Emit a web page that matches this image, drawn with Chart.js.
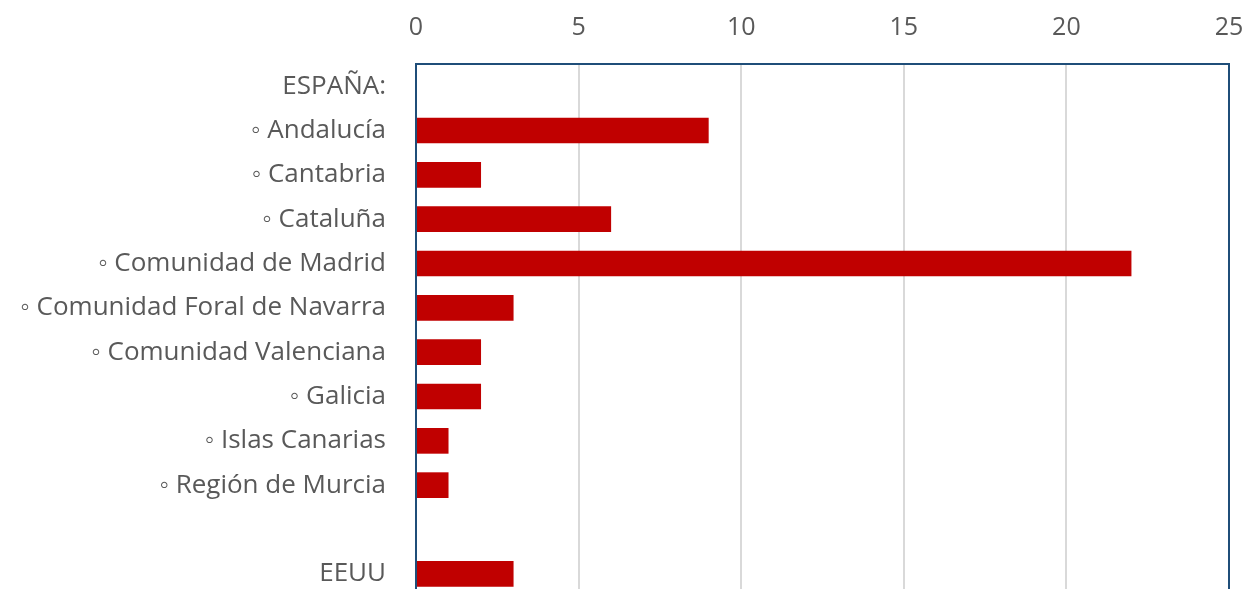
<!DOCTYPE html>
<html>
<head>
<meta charset="utf-8">
<script src="https://cdn.jsdelivr.net/npm/chart.js@4/dist/chart.umd.min.js"></script>
<style>
	html, body { margin: 0; padding: 0; background: #ffffff; overflow: hidden; }
	canvas { display: block; }
</style>
</head>
<body>
<canvas id="chart" width="1247" height="600"></canvas>
<script>
const categories = [
	"ESPAÑA:",
	"◦ Andalucía",
	"◦ Cantabria",
	"◦ Cataluña",
	"◦ Comunidad de Madrid",
	"◦ Comunidad Foral de Navarra",
	"◦ Comunidad Valenciana",
	"◦ Galicia",
	"◦ Islas Canarias",
	"◦ Región de Murcia",
	"",
	"EEUU"
];
const values = [null, 9, 2, 6, 22, 3, 2, 2, 1, 1, null, 3];
const xTicks = [0, 5, 10, 15, 20, 25];

const plotBorder = {
	id: "plotBorder",
	afterDatasetsDraw: function (chart) {
		const area = chart.chartArea;
		const ctx = chart.ctx;
		ctx.save();
		ctx.strokeStyle = "#1f4e79";
		ctx.lineWidth = 2;
		ctx.strokeRect(area.left, area.top, area.right - area.left, area.bottom - area.top);
		ctx.restore();
	}
};

// drop the extra room chart.js keeps for edge labels
function noEdgePadding(scale) {
	scale.paddingLeft = 0;
	scale.paddingRight = 0;
	scale.paddingTop = 0;
	scale.paddingBottom = 0;
}

new Chart(document.getElementById("chart"), {
	type: "bar",
	data: {
		labels: categories,
		datasets: [
			{
				data: values,
				backgroundColor: "#c00000",
				borderWidth: 0,
				categoryPercentage: 1,
				barPercentage: 0.58
			}
		]
	},
	options: {
		indexAxis: "y",
		responsive: false,
		animation: false,
		layout: { padding: { top: 0, right: 18, bottom: 4, left: 0 } },
		plugins: {
			legend: { display: false },
			tooltip: { enabled: false }
		},
		scales: {
			x: {
				position: "top",
				min: 0,
				max: 25,
				afterBuildTicks: function (scale) {
					scale.ticks = xTicks.map(function (v) { return { value: v }; });
				},
				afterFit: function (scale) {
					scale.height = 64;
					noEdgePadding(scale);
				},
				grid: {
					drawTicks: false,
					color: function (c) {
						return c.tick && c.tick.value > 0 && c.tick.value < 25 ? "#d9d9d9" : "rgba(0,0,0,0)";
					},
					lineWidth: 2
				},
				border: { display: false },
				ticks: {
					padding: 21,
					color: "#595959",
					font: { family: "'Open Sans', sans-serif", size: 25 }
				}
			},
			y: {
				afterFit: function (scale) {
					scale.width = 416;
					noEdgePadding(scale);
				},
				grid: { display: false, drawTicks: false },
				border: { display: false },
				ticks: {
					padding: 30,
					color: "#595959",
					font: { family: "'Open Sans', sans-serif", size: 26 }
				}
			}
		}
	},
	plugins: [plotBorder]
});
</script>
</body>
</html>
